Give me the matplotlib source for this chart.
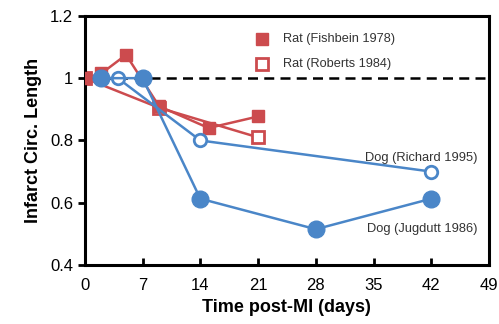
import matplotlib.pyplot as plt

plt.rcParams['font.family'] = ['Liberation Sans', 'DejaVu Sans']

red = '#CC4B4E'
blue = '#4A86C8'

# data
fish_x = [0, 2, 5, 9, 15, 21]
fish_y = [1.0, 1.015, 1.075, 0.91, 0.84, 0.877]

rob_x = [0, 9, 21]
rob_y = [1.0, 0.905, 0.81]

jug_x = [2, 7, 14, 28, 42]
jug_y = [1.0, 1.0, 0.613, 0.515, 0.613]

rich_x = [4, 14, 42]
rich_y = [1.0, 0.80, 0.70]

xticks = [0, 7, 14, 21, 28, 35, 42, 49]
yticks = [0.4, 0.6, 0.8, 1.0, 1.2]
ytick_labels = ['0.4', '0.6', '0.8', '1', '1.2']

fig = plt.figure(figsize=(4.99, 3.24), dpi=100)
ax = fig.add_axes([0.170, 0.182, 0.810, 0.769])

ax.axhline(1.0, color='black', lw=1.8, ls=(0, (4, 2.5)), zorder=1)

ax.plot(rob_x, rob_y, color=red, lw=1.8, marker='s', ms=8, mfc='white',
        mec=red, mew=2, zorder=2)
ax.plot(fish_x, fish_y, color=red, lw=1.8, marker='s', ms=8, mfc=red,
        mec=red, zorder=3)
ax.plot(rich_x, rich_y, color=blue, lw=1.8, marker='o', ms=9, mfc='white',
        mec=blue, mew=2, zorder=4)
ax.plot(jug_x, jug_y, color=blue, lw=1.8, marker='o', ms=12, mfc=blue,
        mec=blue, zorder=5)

# legend-like keys
ax.plot([21.5], [1.127], marker='s', ms=8, color=red, ls='none')
ax.plot([21.5], [1.047], marker='s', ms=8, mfc='white', mec=red, mew=2, ls='none')
ax.text(24, 1.127, 'Rat (Fishbein 1978)', fontsize=9.2, va='center', color='#333333')
ax.text(24, 1.047, 'Rat (Roberts 1984)', fontsize=9.2, va='center', color='#333333')

ax.text(47.6, 0.745, 'Dog (Richard 1995)', fontsize=9.3, ha='right', va='center',
        color='#333333')
ax.text(47.6, 0.515, 'Dog (Jugdutt 1986)', fontsize=9.3, ha='right', va='center',
        color='#333333')

ax.set_xlim(0, 49)
ax.set_ylim(0.4, 1.2)
ax.set_xticks(xticks)
ax.set_yticks(yticks)
ax.set_yticklabels(ytick_labels)
ax.tick_params(axis='x', direction='in', length=5, width=2, labelsize=12, pad=9)
ax.tick_params(axis='y', direction='out', length=5, width=2, labelsize=12)
for s in ax.spines.values():
    s.set_linewidth(2.2)

ax.set_xlabel('Time post-MI (days)', fontsize=13, fontweight='bold', labelpad=5)
ax.set_ylabel('Infarct Circ. Length', fontsize=13, fontweight='bold', labelpad=6)

fig.savefig('out.png', dpi=100)
